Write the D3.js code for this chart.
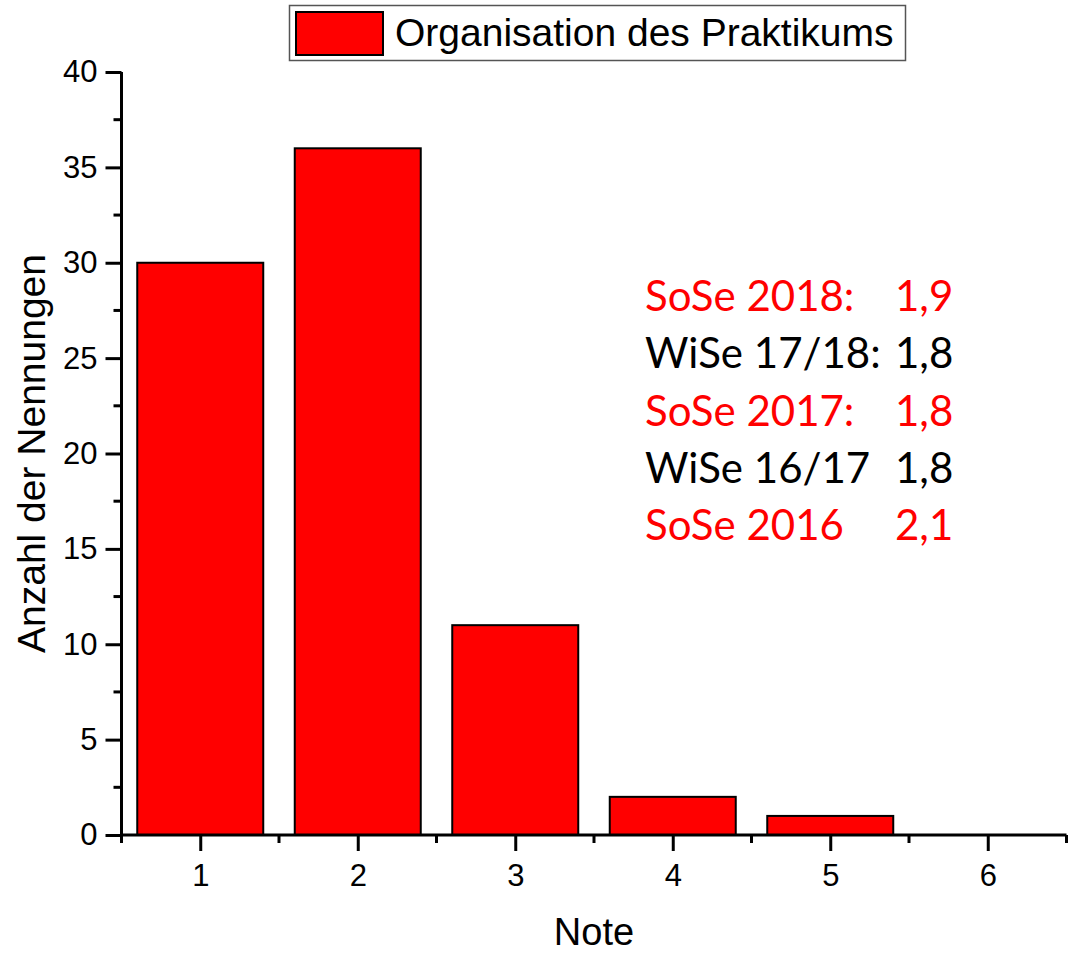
<!DOCTYPE html>
<html>
<head>
<meta charset="utf-8">
<script src="https://cdn.jsdelivr.net/npm/d3@7"></script>
<style>
  html, body { margin: 0; padding: 0; background: #fff; }
  svg { display: block; }
</style>
</head>
<body>
<svg id="chart" width="1068" height="953"></svg>
<script>
// ---- data ----
const categories = [1, 2, 3, 4, 5, 6];
const counts = [30, 36, 11, 2, 1, 0];
const yTicks = [0, 5, 10, 15, 20, 25, 30, 35, 40];
const seriesName = "Organisation des Praktikums";
const xTitle = "Note";
const yTitle = "Anzahl der Nennungen";
const noteLabels = ["SoSe 2018:", "WiSe 17/18:", "SoSe 2017:", "WiSe 16/17", "SoSe 2016"];
const noteValues = ["1,9", "1,8", "1,8", "1,8", "2,1"];
const noteColors = ["#ff0000", "#000000", "#ff0000", "#000000", "#ff0000"];

(function () {
// ---- layout ----
const svg = d3.select("#chart");
const mL = 121.5, mR = 1066.5, mT = 72, mB = 835;
const x = d3.scaleLinear().domain([0.5, 6.5]).range([mL, mR]);
const y = d3.scaleLinear().domain([0, 40]).range([mB, mT]);
const barW = (x(1) - x(0)) * 0.8;
const red = "#ff0000";
const axisFont = "'Liberation Sans', Arial, sans-serif";

// bars
svg.append("g").selectAll("rect")
  .data(categories.map((c, i) => ({c, v: counts[i]})).filter(d => d.v > 0))
  .join("rect")
  .attr("x", d => x(d.c) - barW / 2)
  .attr("y", d => y(d.v))
  .attr("width", barW)
  .attr("height", d => y(0) - y(d.v))
  .attr("fill", red)
  .attr("stroke", "#000")
  .attr("stroke-width", 2);

// y axis
const yAxis = d3.axisLeft(y).tickValues(yTicks).tickFormat(d3.format("d"))
  .tickSize(16).tickSizeOuter(0).tickPadding(8);
const gy = svg.append("g").attr("transform", `translate(${mL},0)`).call(yAxis);
const yMinor = d3.range(2.5, 40, 5);
gy.selectAll(".minor").data(yMinor).join("line")
  .attr("class", "minor").attr("x1", -8).attr("x2", 0)
  .attr("y1", d => y(d)).attr("y2", d => y(d));

// x axis
const xAxis = d3.axisBottom(x).tickValues(categories).tickFormat(d3.format("d"))
  .tickSize(16).tickSizeOuter(0).tickPadding(13);
const gx = svg.append("g").attr("transform", `translate(0,${mB})`).call(xAxis);
const xMinor = d3.range(0.5, 7, 1);
gx.selectAll(".minor").data(xMinor).join("line")
  .attr("class", "minor").attr("y1", 0).attr("y2", 8)
  .attr("x1", d => x(d)).attr("x2", d => x(d));

[gx, gy].forEach(g => {
  g.select(".domain").attr("stroke", "#000").attr("stroke-width", 3);
  g.selectAll("line").attr("stroke", "#000").attr("stroke-width", 3);
  g.selectAll("text").attr("font-family", axisFont).attr("font-size", 31).attr("fill", "#000");
});
gx.select(".domain").attr("d", `M${mL - 1.5},0H${mR}`);
gy.select(".domain").attr("d", `M0,${mT}V${mB + 1.5}`);

// axis titles
svg.append("text")
  .attr("x", (mL + mR) / 2).attr("y", 945)
  .attr("text-anchor", "middle")
  .attr("font-family", axisFont).attr("font-size", 38)
  .text(xTitle);
svg.append("text")
  .attr("transform", `translate(45,${(mT + mB) / 2}) rotate(-90)`)
  .attr("text-anchor", "middle")
  .attr("font-family", axisFont).attr("font-size", 39)
  .text(yTitle);

// legend
const lg = svg.append("g");
lg.append("rect").attr("x", 289.5).attr("y", 5.5).attr("width", 616).attr("height", 55)
  .attr("fill", "#fff").attr("stroke", "#555").attr("stroke-width", 1.5);
lg.append("rect").attr("x", 296).attr("y", 12).attr("width", 87).attr("height", 43)
  .attr("fill", red).attr("stroke", "#000").attr("stroke-width", 2);
lg.append("text").attr("x", 395).attr("y", 46)
  .attr("font-family", axisFont).attr("font-size", 39)
  .text(seriesName);

// annotation
const ng = svg.append("g").attr("font-family", "Lato, 'Open Sans', sans-serif").attr("font-size", 42);
noteLabels.forEach((t, i) => {
  const by = 311 + i * 57.3;
  ng.append("text").attr("x", 645).attr("y", by).attr("fill", noteColors[i]).text(t);
  ng.append("text").attr("x", 895).attr("y", by).attr("fill", noteColors[i]).text(noteValues[i]);
});
})();
</script>
</body>
</html>
